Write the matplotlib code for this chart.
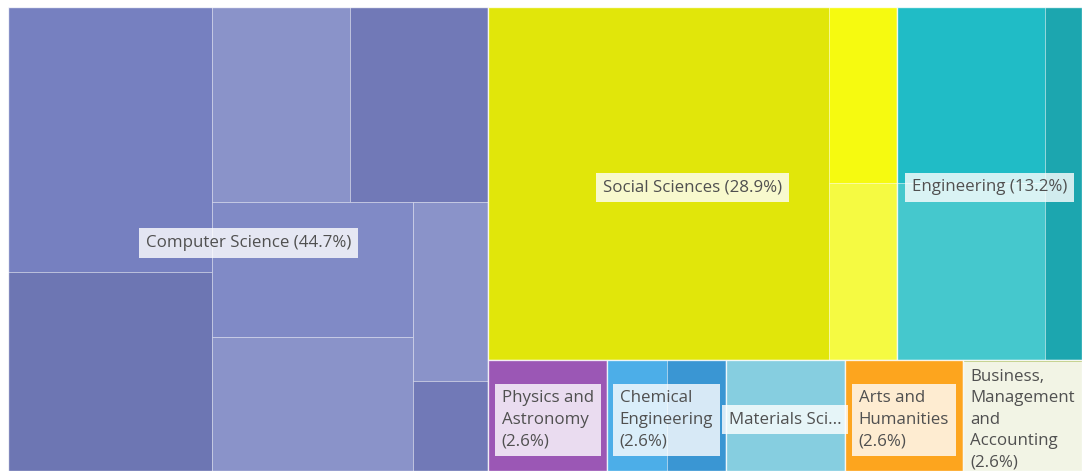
#!/usr/bin/env python3
"""Treemap of publications by subject area (Highcharts-style squarified layout)."""

import textwrap
import matplotlib
matplotlib.use('Agg')
import matplotlib.pyplot as plt
from matplotlib.patches import Rectangle

# Data
subject_areas = ['Computer Science', 'Social Sciences', 'Engineering',
                 'Physics and Astronomy', 'Chemical Engineering', 'Materials Science',
                 'Arts and Humanities', 'Business, Management and Accounting']
shares = [44.7, 28.9, 13.2, 2.6, 2.6, 2.6, 2.6, 2.6]
counts = [17, 11, 5, 1, 1, 1, 1, 1]

# sub-topic weights inside each subject area
cs_sub = [4, 3, 2, 2, 2, 2, 1, 0.5]
ss_sub = [10, 1, 1]
eng_sub = [2, 2, 1]
phys_sub = [1]
chem_sub = [1, 1]
mat_sub = [1]
arts_sub = [1]
bus_sub = [1]
sub_weights = [cs_sub, ss_sub, eng_sub, phys_sub, chem_sub, mat_sub, arts_sub, bus_sub]

# colours of the sub-topic cells
cs_colors = ['#7680c0', '#6d76b3', '#8a93c9', '#7179b7', '#808ac6', '#8a93c9', '#8a93c9', '#7179b7']
ss_colors = ['#e1e60a', '#f6fa10', '#f5fa42']
eng_colors = ['#20bcc6', '#45c8cd', '#1ca6af']
phys_colors = ['#9b57b5']
chem_colors = ['#4caee8', '#3a96d3']
mat_colors = ['#86cee0']
arts_colors = ['#fda51e']
bus_colors = ['#bfcd82']
sub_colors = [cs_colors, ss_colors, eng_colors, phys_colors, chem_colors, mat_colors,
              arts_colors, bus_colors]

# the original cut this label short
label_override = {'Materials Science': 'Materials Sci...'}


def squarify(values, x, y, w, h):
    """Squarified layout as done by Highcharts (direction flips after each row)."""
    total = float(sum(values))
    areas = [w * h * v / total for v in values]
    rects = []
    direction = 0  # 0 = column on the left, 1 = row on top

    def aspect(a, b):
        return max(a / b, b / a)

    def last_ratio(row, rw, rh):
        s = sum(row)
        if direction == 0:
            cw = s / rh
            return aspect(cw, row[-1] / cw)
        ch = s / rw
        return aspect(row[-1] / ch, ch)

    def lay(row, x, y, w, h):
        s = sum(row)
        if direction == 0:
            cw = s / h
            yy = y
            for a in row:
                rects.append((x, yy, cw, a / cw))
                yy += a / cw
            return x + cw, y, w - cw, h
        ch = s / w
        xx = x
        for a in row:
            rects.append((xx, y, a / ch, ch))
            xx += a / ch
        return x, y + ch, w, h - ch

    row = []
    for a in areas:
        if row:
            old = last_ratio(row, w, h)
            new = last_ratio(row + [a], w, h)
            if new > old:
                x, y, w, h = lay(row, x, y, w, h)
                direction = 1 - direction
                row = []
        row.append(a)
    lay(row, x, y, w, h)
    return rects


fig = plt.figure(figsize=(10.82, 4.71), dpi=100)
ax = fig.add_axes([8 / 1082, 0, 1074 / 1082, 464.5 / 471])
ax.axis('off')
fig.canvas.draw()
bb = ax.get_window_extent()
W, H = bb.width, bb.height
ax.set_xlim(0, W)
ax.set_ylim(H, 0)

groups = squarify(counts, 0, 0, W, H)

for name, share, grect, weights, colors in zip(subject_areas, shares, groups,
                                                sub_weights, sub_colors):
    gx, gy, gw, gh = grect
    for (x, y, w, h), c in zip(squarify(weights, gx, gy, gw, gh), colors):
        ax.add_patch(Rectangle((x, y), w, h, facecolor=c,
                               edgecolor=(1, 1, 1, 0.3), linewidth=0.7))
    ax.add_patch(Rectangle((gx, gy), gw, gh, facecolor='none',
                           edgecolor=(1, 1, 1, 0.7), linewidth=1.0))

    text = label_override.get(name, f'{name} ({share}%)')
    if gw < 150 and name not in label_override:
        text = '\n'.join(textwrap.wrap(text, 11))
    ax.annotate(text, (gx + gw / 2, gy + gh / 2), xytext=(0, -4),
                textcoords='offset pixels', ha='center', va='center',
                multialignment='left', fontsize=12.2, family='Open Sans',
                color='#505050', linespacing=1.45,
                bbox=dict(boxstyle='square,pad=0.4', facecolor='white',
                          alpha=0.8, edgecolor='none'))

plt.savefig('out.png', dpi=100, facecolor='white')
